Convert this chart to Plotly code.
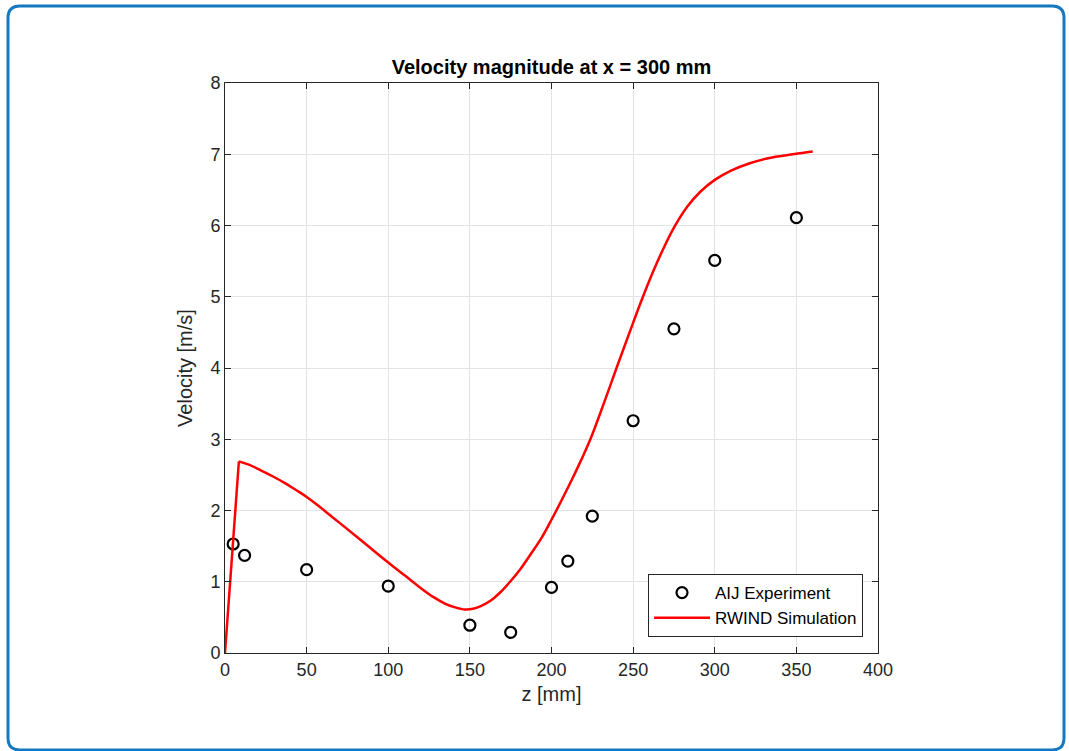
import plotly.graph_objects as go

# Experimental data (AIJ)
z_exp = [5, 12, 50, 100, 150, 175, 200, 210, 225, 250, 275, 300, 350]
v_exp = [1.53, 1.37, 1.17, 0.94, 0.39, 0.29, 0.92, 1.29, 1.92, 3.26, 4.55, 5.51, 6.11]

# Simulation curve (RWIND)
z_sim = [0, 8.5, 15, 23.5, 30, 37, 44, 50, 57, 64, 70, 85, 100, 110, 120, 128, 135, 141,
         147, 152, 157, 163, 169, 175, 181, 187, 194, 200, 212, 218, 224, 232, 240, 248,
         255, 262, 268, 275, 283, 291, 300, 310, 321, 332, 342, 352, 360]
v_sim = [0, 2.69, 2.64, 2.545, 2.47, 2.38, 2.28, 2.19, 2.07, 1.94, 1.83, 1.55, 1.27, 1.09,
         0.91, 0.78, 0.69, 0.64, 0.61, 0.62, 0.66, 0.74, 0.86, 1.01, 1.18, 1.38, 1.62,
         1.87, 2.41, 2.70, 3.01, 3.50, 4.01, 4.51, 4.94, 5.34, 5.65, 5.97, 6.26, 6.47,
         6.64, 6.77, 6.87, 6.94, 6.98, 7.015, 7.04]

x_ticks = [0, 50, 100, 150, 200, 250, 300, 350, 400]
y_ticks = [0, 1, 2, 3, 4, 5, 6, 7, 8]

FONT = "Liberation Sans, Arial, Helvetica, sans-serif"
AX = "#262626"
RED = "#ff0000"

fig = go.Figure()
fig.add_trace(go.Scatter(
    x=z_exp, y=v_exp, mode="markers", name="AIJ Experiment",
    marker=dict(symbol="circle-open", size=11, color="black", line=dict(width=2.2, color="black")),
))
# rising edge (sharp corner kept), then the smooth part of the same curve
fig.add_trace(go.Scatter(
    x=z_sim[:2], y=v_sim[:2], mode="lines", name="RWIND Simulation",
    legendgroup="sim", showlegend=False,
    line=dict(color=RED, width=2.5),
))
fig.add_trace(go.Scatter(
    x=z_sim[1:], y=v_sim[1:], mode="lines", name="RWIND Simulation",
    legendgroup="sim", showlegend=True,
    line=dict(color=RED, width=2.5, shape="spline", smoothing=1.0),
))

W, H = 1069, 751
L, R, T, B = 225, 878, 83, 653
pw, ph = R - L, B - T

def px_x(p):
    return (p - L) / pw

def px_y(p):
    return (B - p) / ph

# rounded border
x0, x1, y0, y1 = 8, 1064, 6, 750
r = 12
path = (
    f"M {px_x(x0 + r)},{px_y(y0)} L {px_x(x1 - r)},{px_y(y0)} "
    f"Q {px_x(x1)},{px_y(y0)} {px_x(x1)},{px_y(y0 + r)} "
    f"L {px_x(x1)},{px_y(y1 - r)} Q {px_x(x1)},{px_y(y1)} {px_x(x1 - r)},{px_y(y1)} "
    f"L {px_x(x0 + r)},{px_y(y1)} Q {px_x(x0)},{px_y(y1)} {px_x(x0)},{px_y(y1 - r)} "
    f"L {px_x(x0)},{px_y(y0 + r)} Q {px_x(x0)},{px_y(y0)} {px_x(x0 + r)},{px_y(y0)} Z"
)

axis_common = dict(
    showline=True, linecolor=AX, linewidth=1, mirror="ticks",
    ticks="inside", ticklen=6, tickcolor=AX, tickwidth=1,
    showgrid=True, gridcolor="#e3e3e3", gridwidth=1,
    zeroline=False,
    tickfont=dict(family=FONT, size=18, color=AX),
)

fig.update_layout(
    width=W, height=H,
    margin=dict(l=L, r=W - R, t=T, b=H - B),
    paper_bgcolor="white", plot_bgcolor="white",
    font=dict(family=FONT, color=AX),
    title=dict(text="<b>Velocity magnitude at x = 300 mm</b>", x=0.5, xref="paper",
               y=1 - 67 / H, yref="container", yanchor="middle",
               font=dict(family=FONT, size=20, color="black")),
    xaxis=dict(range=[0, 400], tickvals=x_ticks, ticktext=[str(v) for v in x_ticks],
               title=dict(text="z [mm]", font=dict(family=FONT, size=20, color=AX), standoff=8),
               **axis_common),
    yaxis=dict(range=[0, 8], tickvals=y_ticks, ticktext=[str(v) for v in y_ticks],
               title=dict(text="Velocity [m/s]", font=dict(family=FONT, size=20, color=AX), standoff=12),
               **axis_common),
    legend=dict(x=px_x(863), xanchor="right", y=px_y(637), yanchor="bottom",
                bgcolor="white", bordercolor=AX, borderwidth=1,
                font=dict(family=FONT, size=17, color="black"),
                itemwidth=56, tracegroupgap=0),
    showlegend=True,
    shapes=[dict(type="path", path=path, xref="paper", yref="paper",
                 line=dict(color="#1479c0", width=3), fillcolor="rgba(0,0,0,0)", layer="below")],
)

fig.write_html("out.html", config={"displayModeBar": False},
               post_script="document.body.style.margin='0';document.body.style.overflow='hidden';")
